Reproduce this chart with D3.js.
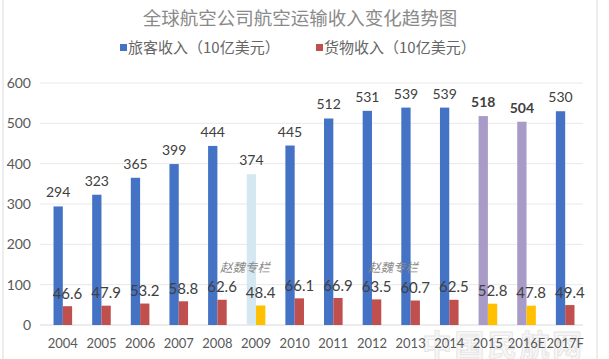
<!DOCTYPE html>
<html>
<head>
<meta charset="utf-8">
<script src="https://cdn.jsdelivr.net/npm/d3@7"></script>
<style>
  body { margin: 0; background: #fff; }
  svg text { font-family: Lato, "Noto Sans CJK SC", sans-serif; }
</style>
</head>
<body>
<svg id="chart" width="609" height="359"></svg>
<script>
var years = ["2004","2005","2006","2007","2008","2009","2010","2011","2012","2013","2014","2015","2016E","2017F"];
var passenger = [294,323,365,399,444,374,445,512,531,539,539,518,504,530];
var cargo = [46.6,47.9,53.2,58.8,62.6,48.4,66.1,66.9,63.5,60.7,62.5,52.8,47.8,49.4];
var yTicks = [0,100,200,300,400,500,600];
// highlighted years (recession 2009, estimates 2015/2016E)
var paleYears = ["2009"];
var purpleYears = ["2015","2016E"];
var yellowYears = ["2009","2015","2016E"];
var seriesNames = ["旅客收入（10亿美元）","货物收入（10亿美元）"];

svg = d3.select("#chart"),
width = +svg.attr("width"),
height = +svg.attr("height");

var blue = "#4472c4", red = "#c0504d";

var x = d3.scaleBand().domain(years).range([43.5, 584.5]);
var y = d3.scaleLinear().domain([0, 600]).range([325, 83]);
var barW = 9.3;

// frame
svg.append("line").attr("x1", 3).attr("x2", 3).attr("y1", 0).attr("y2", height).attr("stroke", "#dcdcdc");
svg.append("line").attr("x1", 597).attr("x2", 597).attr("y1", 0).attr("y2", height).attr("stroke", "#dcdcdc");

// faint site watermark, bottom right (behind everything)
svg.append("text")
  .attr("x", 422).attr("y", 356)
  .attr("font-size", 30)
  .attr("font-weight", "bold")
  .attr("fill", "#f6f6f6")
  .attr("stroke", "#e4e4e4")
  .attr("stroke-width", 0.8)
  .attr("textLength", 160)
  .style("font-family", "'Noto Sans CJK SC', sans-serif")
  .text("中国民航网");

// title
svg.append("text")
  .attr("x", 300).attr("y", 25)
  .attr("text-anchor", "middle")
  .attr("font-size", 18.5)
  .attr("fill", "#8a8a8a")
  .style("font-family", "'Noto Sans CJK SC', sans-serif")
  .text("全球航空公司航空运输收入变化趋势图");

// legend
var legend = svg.append("g").selectAll("g")
  .data(seriesNames)
  .enter().append("g")
  .attr("transform", function(d, i) { return "translate(" + (120 + i * 196) + ",48)"; });
legend.append("rect")
  .attr("x", 0).attr("y", -4).attr("width", 7).attr("height", 7)
  .attr("fill", function(d, i) { return i == 0 ? blue : red; });
legend.append("text")
  .attr("x", 8).attr("y", 5)
  .attr("font-size", 15)
  .attr("fill", "#666")
  .style("font-family", "'Noto Sans CJK SC', sans-serif")
  .text(function(d) { return d; });

// grid
svg.append("g").selectAll("line")
  .data(yTicks)
  .enter().append("line")
  .attr("x1", 40).attr("x2", 583)
  .attr("y1", function(d) { return y(d); })
  .attr("y2", function(d) { return y(d); })
  .attr("stroke", function(d) { return d == 0 ? "#d9d9d9" : "#e8e8e8"; });

// y axis labels
var yAxis = svg.append("g")
  .attr("transform", "translate(31,0)")
  .call(d3.axisLeft(y).tickValues(yTicks).tickSize(0).tickPadding(0));
yAxis.select(".domain").remove();
yAxis.selectAll("text").attr("font-size", 14).attr("fill", "#595959").style("font-family", "Lato, sans-serif");

// x axis labels
var xAxis = svg.append("g")
  .attr("transform", "translate(0,338)")
  .call(d3.axisBottom(x).tickSize(0).tickPadding(0));
xAxis.select(".domain").remove();
xAxis.selectAll("text").attr("font-size", 13).attr("fill", "#595959").attr("dy", "0.75em").style("font-family", "Lato, sans-serif");

// passenger bars
svg.append("g").selectAll("rect")
  .data(years)
  .enter().append("rect")
  .attr("x", function(d) { return x(d) + x.bandwidth() / 2 - barW; })
  .attr("width", barW)
  .attr("y", function(d, i) { return y(passenger[i]); })
  .attr("height", function(d, i) { return y(0) - y(passenger[i]); })
  .attr("fill", function(d) {
    if (paleYears.indexOf(d) >= 0) return "#d5e8f2";
    if (purpleYears.indexOf(d) >= 0) return "#a99bc8";
    return blue;
  });

// cargo bars
svg.append("g").selectAll("rect")
  .data(years)
  .enter().append("rect")
  .attr("x", function(d) { return x(d) + x.bandwidth() / 2; })
  .attr("width", barW)
  .attr("y", function(d, i) { return y(cargo[i]); })
  .attr("height", function(d, i) { return y(0) - y(cargo[i]); })
  .attr("fill", function(d) { return yellowYears.indexOf(d) >= 0 ? "#ffc000" : red; });

// value labels
svg.append("g").selectAll("text")
  .data(years)
  .enter().append("text")
  .attr("x", function(d) { return x(d) + x.bandwidth() / 2 - barW / 2; })
  .attr("y", function(d, i) { return y(passenger[i]) - 9; })
  .attr("text-anchor", "middle")
  .attr("font-size", 14)
  .attr("font-weight", function(d) { return purpleYears.indexOf(d) >= 0 ? "bold" : "normal"; })
  .attr("fill", "#404040")
  .text(function(d, i) { return passenger[i]; });

svg.append("g").selectAll("text")
  .data(years)
  .enter().append("text")
  .attr("x", function(d) { return x(d) + x.bandwidth() / 2 + barW / 2; })
  .attr("y", function(d, i) { return y(cargo[i]) - 7.5; })
  .attr("text-anchor", "middle")
  .attr("font-size", 15)
  .attr("fill", "#404040")
  .text(function(d, i) { return cargo[i]; });

// author watermarks
svg.selectAll(".wm")
  .data([[220, 272], [368, 272]])
  .enter().append("text")
  .attr("x", function(d) { return d[0]; })
  .attr("y", function(d) { return d[1]; })
  .attr("font-size", 12.5)
  .attr("font-style", "italic")
  .attr("fill", "#8a8a8a")
  .style("font-family", "'Noto Sans CJK SC', sans-serif")
  .text("赵魏专栏");
</script>
</body>
</html>
